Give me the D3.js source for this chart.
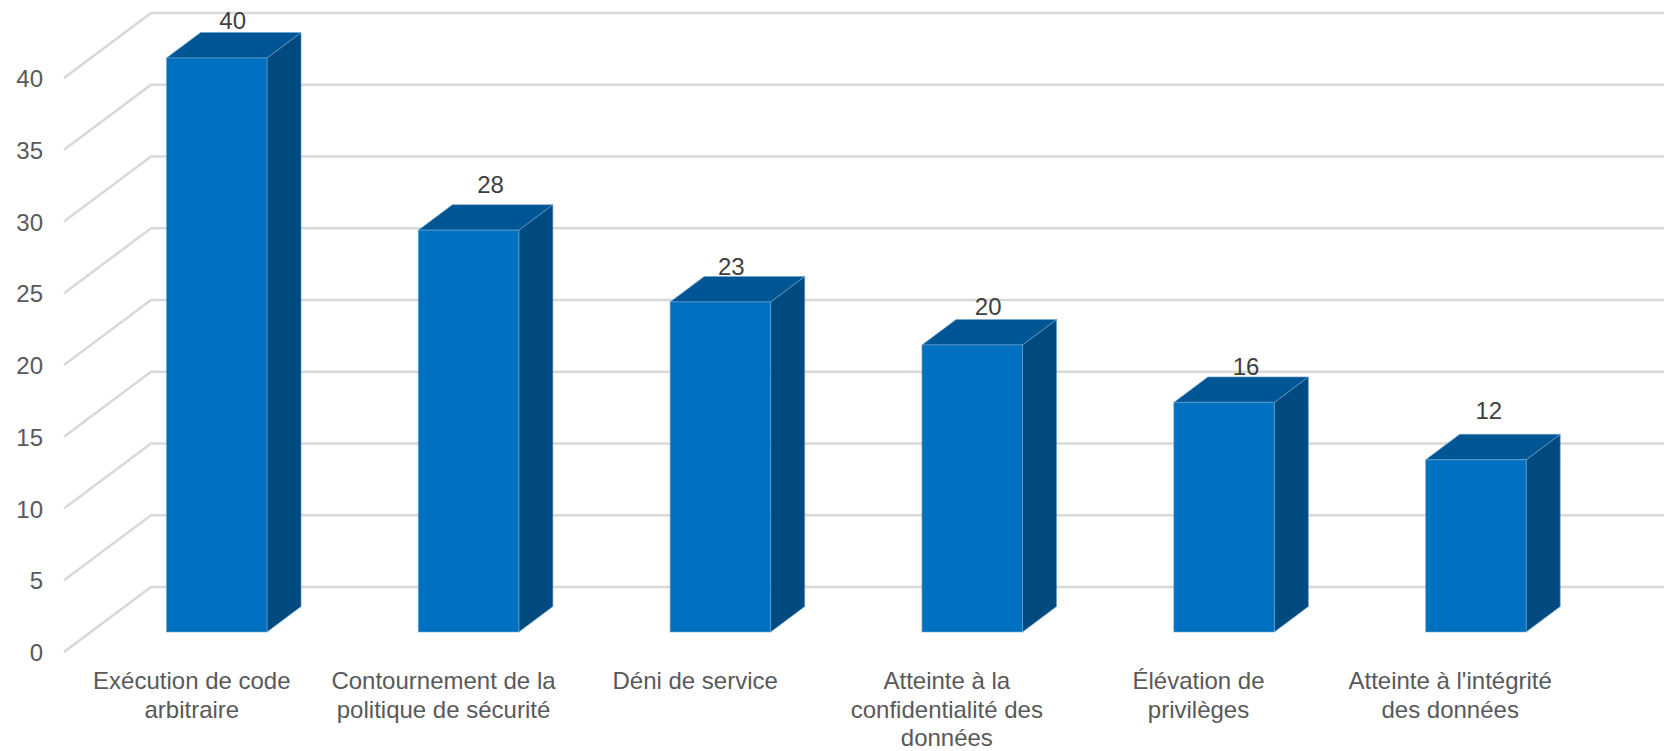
<!DOCTYPE html>
<html>
<head>
<meta charset="utf-8">
<script src="https://cdn.jsdelivr.net/npm/d3@7"></script>
<style>
 body { margin: 0; background: #fff; }
 text { font-family: "Liberation Sans", Arial, sans-serif; }
 .tick text, .cat { fill: #595959; font-size: 24px; }
 .val { fill: #404040; font-size: 24px; text-anchor: middle; }
 .grid { fill: none; stroke: #d9d9d9; stroke-width: 2.6; }
 .bar polygon, .bar rect { stroke: #6fa5d2; stroke-width: 1; stroke-opacity: 0.6; }
</style>
</head>
<body>
<svg width="1671" height="751"></svg>
<script>
const categories = [
 "Exécution de code\narbitraire",
 "Contournement de la\npolitique de sécurité",
 "Déni de service",
 "Atteinte à la\nconfidentialité des\ndonnées",
 "Élévation de\nprivilèges",
 "Atteinte à l'intégrité\ndes données"
];
const values = [40, 28, 23, 20, 16, 12];
const yTicks = [0, 5, 10, 15, 20, 25, 30, 35, 40];

// hand placed data labels in the original, offset from the bar's back top edge
const labelDx = [16, 22, 11, 16, 22, 13];
const labelDy = [-12, -20, -10, -13, -10, -24];

// oblique projection of the chart box
const depthX = 87;
const depthY = 65;
const barFront = 0.308;
const barBack = 0.7;
const barWidth = 100.5;
const rightEdge = 1664;
const floorLeft = 64;
const floorRight = 1575;

const svg = d3.select("svg");

const gap = 1 - barWidth / ((floorRight - floorLeft) / 6);

const xScale = d3
 .scaleBand()
 .range([floorLeft, floorRight])
 .domain(categories)
 .paddingInner(gap)
 .paddingOuter(gap / 2);

// category labels are centred on the front edge of the floor
const labelScale = d3
 .scaleBand()
 .range([66, 1576])
 .domain(categories);

const yScale = d3
 .scaleLinear()
 .range([652, 78])
 .domain([0, 40]);

const px = (x, z) => x + depthX * z;
const py = (y, z) => y - depthY * z;

// back wall and floor lines
svg
 .append("g")
 .selectAll("path")
 .data(yTicks)
 .enter()
 .append("path")
 .attr("class", "grid")
 .attr("d", d => d3.line()([
  [px(floorLeft, 0), py(yScale(d), 0)],
  [px(floorLeft, 1), py(yScale(d), 1)],
  [rightEdge, py(yScale(d), 1)]
 ]));

svg
 .append("g")
 .attr("transform", "translate(50,1)")
 .call(d3.axisLeft(yScale).tickValues(yTicks).tickSize(0).tickPadding(7))
 .call(g => g.select(".domain").remove());

const bars = svg
 .selectAll(".bar")
 .data(values)
 .enter()
 .append("g")
 .attr("class", "bar");

const left = i => xScale(categories[i]);
const right = i => left(i) + xScale.bandwidth();
const poly = pts => pts.map(p => p.join(",")).join(" ");

// side face
bars
 .append("polygon")
 .attr("fill", "#004a80")
 .attr("points", (d, i) => poly([
  [px(right(i), barFront), py(yScale(0), barFront)],
  [px(right(i), barBack), py(yScale(0), barBack)],
  [px(right(i), barBack), py(yScale(d), barBack)],
  [px(right(i), barFront), py(yScale(d), barFront)]
 ]));

// top face
bars
 .append("polygon")
 .attr("fill", "#005694")
 .attr("points", (d, i) => poly([
  [px(left(i), barFront), py(yScale(d), barFront)],
  [px(left(i), barBack), py(yScale(d), barBack)],
  [px(right(i), barBack), py(yScale(d), barBack)],
  [px(right(i), barFront), py(yScale(d), barFront)]
 ]));

// front face
bars
 .append("rect")
 .attr("fill", "#0070c0")
 .attr("x", (d, i) => px(left(i), barFront))
 .attr("y", d => py(yScale(d), barFront))
 .attr("width", xScale.bandwidth())
 .attr("height", d => yScale(0) - yScale(d));

bars
 .append("text")
 .attr("class", "val")
 .attr("x", (d, i) => px(left(i), barFront) + xScale.bandwidth() / 2 + labelDx[i])
 .attr("y", (d, i) => py(yScale(d), barBack) + labelDy[i])
 .attr("dy", "0.35em")
 .text(d => d);

svg
 .selectAll(".cat")
 .data(categories)
 .enter()
 .append("text")
 .attr("class", "cat")
 .attr("text-anchor", "middle")
 .attr("y", 689)
 .selectAll("tspan")
 .data(d => d.split("\n").map(line => ({ line, x: labelScale(d) + labelScale.bandwidth() / 2 })))
 .enter()
 .append("tspan")
 .attr("x", d => d.x)
 .attr("dy", (d, i) => (i ? 28.5 : 0))
 .text(d => d.line);
</script>
</body>
</html>
